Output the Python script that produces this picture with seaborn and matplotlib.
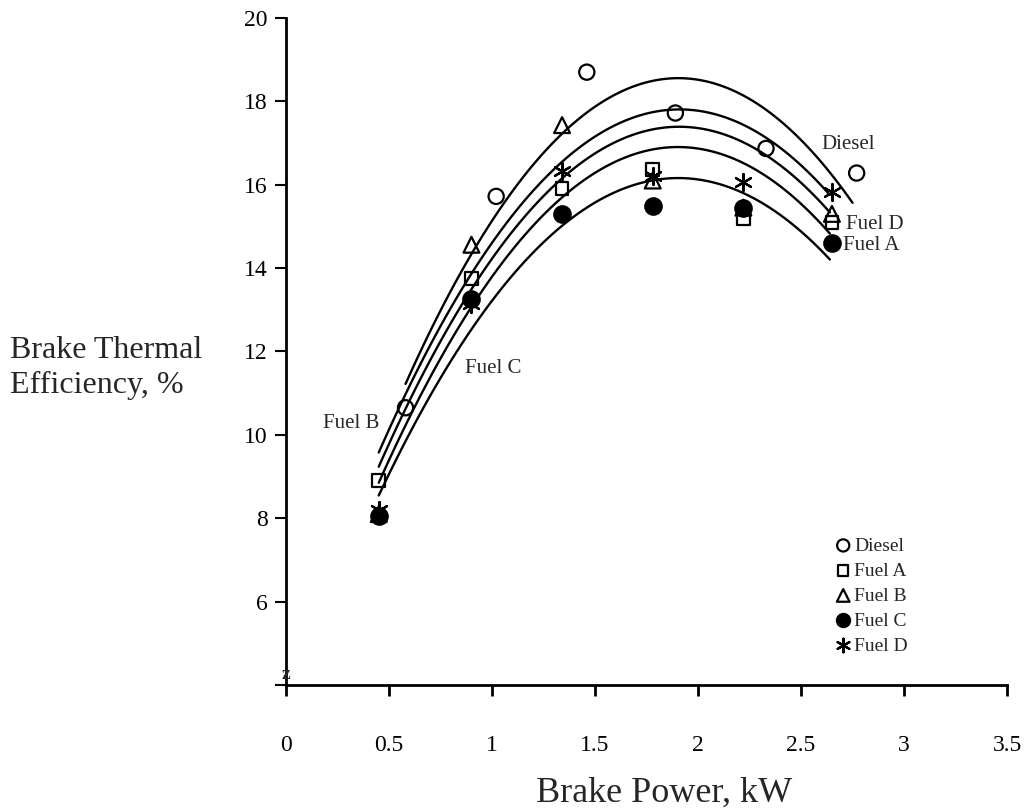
import matplotlib
matplotlib.use("Agg")
import matplotlib.pyplot as plt
import seaborn as sns

diesel_x = [0.58, 1.02, 1.46, 1.89, 2.33, 2.77]
diesel_y = [10.65, 15.72, 18.7, 17.72, 16.87, 16.28]
fuel_x = [0.45, 0.9, 1.34, 1.78, 2.22, 2.65]
fuel_a = [8.9, 13.75, 15.9, 16.36, 15.18, 15.1]
fuel_b = [8.1, 14.56, 17.43, 16.1, 15.45, 15.3]
fuel_c = [8.05, 13.26, 15.3, 15.5, 15.45, 14.59]
fuel_d = [8.2, 13.14, 16.34, 16.22, 16.06, 15.82]

# trend curves at a few x positions
diesel_fit_x = [0.58, 1.34, 1.9, 2.155, 2.75]
diesel_fit_y = [11.2, 17.3, 18.47, 18.31, 15.58]
fuel_fit_x = [0.45, 1.34, 1.9, 2.155, 2.64]
fuel_b_fit = [9.6, 16.46, 17.83, 17.67, 15.70]
fuel_d_fit = [9.25, 16.1, 17.39, 17.23, 15.30]
fuel_a_fit = [8.85, 15.7, 16.90, 16.66, 14.83]
fuel_c_fit = [8.55, 15.0, 16.17, 15.94, 14.20]

xticks = [0, 0.5, 1, 1.5, 2, 2.5, 3, 3.5]
xticklabels = ["0", "0.5", "1", "1.5", "2", "2.5", "3", "3.5"]
yticks = [4, 6, 8, 10, 12, 14, 16, 18, 20]
yticklabels = ["", "6", "8", "10", "12", "14", "16", "18", "20"]

sns.set_style("ticks")
plt.rcParams["font.family"] = ["Liberation Serif", "DejaVu Serif"]

fig = plt.figure(figsize=(10.26, 8.09), dpi=100)
ax = fig.add_axes([0.2788, 0.1533, 0.7027, 0.8245])

# curves
for xs, ys in [(diesel_fit_x, diesel_fit_y), (fuel_fit_x, fuel_b_fit),
               (fuel_fit_x, fuel_d_fit), (fuel_fit_x, fuel_a_fit),
               (fuel_fit_x, fuel_c_fit)]:
    sns.regplot(x=xs, y=ys, order=2, ci=None, scatter=False, color="black",
                ax=ax, line_kws=dict(lw=1.7, zorder=2))

# points (the asterisk is an unfilled marker, so it takes the face colour)
series = [
    ("Diesel", diesel_x, diesel_y, "o", 120, "none"),
    ("Fuel A", fuel_x, fuel_a, "s", 85, "none"),
    ("Fuel B", fuel_x, fuel_b, "^", 130, "none"),
    ("Fuel C", fuel_x, fuel_c, "o", 140, "black"),
    ("Fuel D", fuel_x, fuel_d, (6, 2, 0), 150, "black"),
]
for name, xs, ys, mk, size, fc in series:
    sns.regplot(x=xs, y=ys, fit_reg=False, marker=mk, color="black", ax=ax,
                label=name,
                scatter_kws=dict(s=size, facecolors=fc, edgecolors="black",
                                 linewidths=1.6, alpha=1, zorder=3))

# curve labels
ax.text(2.60, 16.97, "Diesel", fontsize=15, va="center")
ax.text(2.72, 15.04, "Fuel D", fontsize=15, va="center")
ax.text(2.705, 14.54, "Fuel A", fontsize=15, va="center")
ax.text(0.18, 10.28, "Fuel B", fontsize=15, va="center")
ax.text(0.87, 11.6, "Fuel C", fontsize=15, va="center")

# axis break mark
ax.text(0, 4.25, "z", fontsize=14, fontweight="bold", ha="center", va="center")

ax.set_xlim(0, 3.5)
ax.set_ylim(4, 20)
ax.set_xticks(xticks)
ax.set_xticklabels(xticklabels, fontsize=17)
ax.set_yticks(yticks)
ax.set_yticklabels(yticklabels, fontsize=17)
ax.tick_params(axis="x", direction="out", length=8, width=2, pad=28, colors="black")
ax.tick_params(axis="y", direction="out", length=8, width=1.5, pad=5, colors="black")
sns.despine(ax=ax)
for side in ["left", "bottom"]:
    ax.spines[side].set_linewidth(2)
    ax.spines[side].set_color("black")

ax.set_xlabel("")
ax.set_ylabel("")
fig.text(0.647, 0.02, "Brake Power, kW", fontsize=26, ha="center", va="center")
fig.text(0.01, 0.545, "Brake Thermal\nEfficiency, %", fontsize=23, ha="left",
         va="center", linespacing=1.3)

ax.legend(loc="upper left", bbox_to_anchor=(0.762, 0.222), frameon=False,
          fontsize=14, handlelength=0.8, handletextpad=0.15, labelspacing=0.38,
          borderpad=0, borderaxespad=0, markerscale=0.8)

plt.savefig("out.png", dpi=100)
